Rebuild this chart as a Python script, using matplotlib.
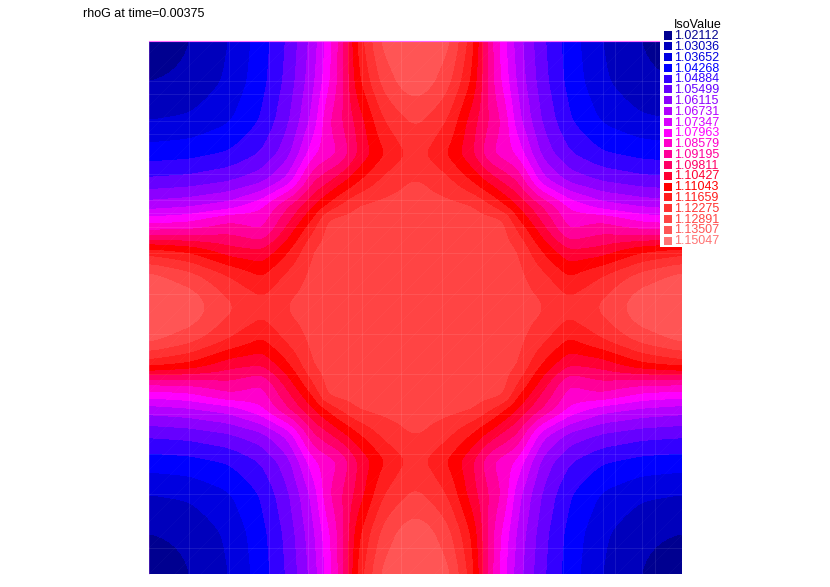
import numpy as np
import matplotlib
matplotlib.use("Agg")
import matplotlib.pyplot as plt
from matplotlib.patches import Rectangle

plt.rcParams['font.family'] = ['Liberation Sans', 'DejaVu Sans']

title = "rhoG at time=0.00375"
iso_values = [1.02112, 1.03036, 1.03652, 1.04268, 1.04884, 1.05499, 1.06115,
              1.06731, 1.07347, 1.07963, 1.08579, 1.09195, 1.09811, 1.10427,
              1.11043, 1.11659, 1.12275, 1.12891, 1.13507, 1.15047]
iso_labels = ["%.5f" % v for v in iso_values]
band_colors = ["#000090", "#0000bc", "#0000e0", "#0000ff", "#3300ff", "#6600ff",
               "#8c00ff", "#b200ff", "#d800ff", "#ff00ff", "#ff00cc", "#ff0099",
               "#ff0066", "#ff0033", "#ff0000", "#ff1e1e", "#ff3232", "#ff4444",
               "#ff5555", "#ff7272"]

# sample positions in one quarter of the square, distance from the corner
pos = [0, 40, 80, 113, 140, 165, 178, 190, 210, 235, 257, 266.5]
# rhoG, the field is mirrored and symmetric about the diagonal
row0 = [1.0174, 1.0255, 1.0334, 1.0427, 1.0532, 1.0673, 1.0781, 1.0889, 1.1160, 1.1345, 1.1369, 1.1375]
row1 = [1.0281, 1.0347, 1.0436, 1.0544, 1.0692, 1.0803, 1.0895, 1.1123, 1.1283, 1.1351, 1.1357]
row2 = [1.0390, 1.0464, 1.0575, 1.0729, 1.0870, 1.0932, 1.1037, 1.1194, 1.1252, 1.1268]
row3 = [1.0525, 1.0624, 1.0815, 1.0858, 1.0883, 1.1018, 1.1129, 1.1197, 1.1212]
row4 = [1.0729, 1.0950, 1.0994, 1.1043, 1.1129, 1.1215, 1.1255, 1.1261]
row5 = [1.1074, 1.1135, 1.1197, 1.1265, 1.1278, 1.1282, 1.1284]
row6 = [1.1264, 1.1272, 1.1280, 1.1286, 1.1289, 1.1289]
row7 = [1.1292, 1.1292, 1.1295, 1.1295, 1.1295]
row8 = [1.1302, 1.1305, 1.1308, 1.1308]
row9 = [1.1311, 1.1311, 1.1311]
row10 = [1.1314, 1.1314]
row11 = [1.1314]
rows = [row0, row1, row2, row3, row4, row5, row6, row7, row8, row9, row10, row11]

# faint mesh seams, px from the left/top of the square
seams_x = [40, 80, 120, 159, 173, 199, 213, 252, 293, 333, 374, 414, 454, 466, 493, 506]
seams_y = [40, 53, 80, 93, 133, 159, 172, 186, 212, 253, 293, 333, 373, 413, 453, 507]
seams_diag = np.arange(-520, 521, 26)

W, H = 830, 587
fig = plt.figure(figsize=(W/100, H/100), dpi=100)
ax = fig.add_axes([149/W, 1-574/H, 533/W, 533/H])

# build the full field
n = len(pos)
q = np.zeros((n, n))
for i, r in enumerate(rows):
    q[i, i:] = r
    q[i:, i] = r
full = np.vstack([q, q[-2::-1]])
full = np.hstack([full, full[:, -2::-1]])
p = np.array(pos)
xs = np.concatenate([p, 533 - p[-2::-1]])

# resample to 1px and soften so the bands are not angular
xf = np.arange(0, 534)
zf = np.array([np.interp(xf, xs, r) for r in full])
zf = np.array([np.interp(xf, xs, c) for c in zf.T]).T
blur = np.exp(-0.5*(np.arange(-15, 16)/5.0)**2)
blur = blur/blur.sum()
zp = np.pad(zf, 15, mode='reflect')
zp = np.apply_along_axis(lambda v: np.convolve(v, blur, mode='same'), 0, zp)
zp = np.apply_along_axis(lambda v: np.convolve(v, blur, mode='same'), 1, zp)
zf = zp[15:-15, 15:-15]

mids = [(a+b)/2 for a, b in zip(iso_values[:-1], iso_values[1:])]
edges = [1.0] + mids + [1.2]
ax.contourf(xf, xf, zf, levels=edges, colors=band_colors)
for s in seams_x:
    ax.axvline(s, color='white', lw=0.8, alpha=0.09)
for s in seams_y:
    ax.axhline(s, color='white', lw=0.8, alpha=0.09)
for c in seams_diag:
    ax.plot([0, 533], [533-c, -c], color='white', lw=0.5, alpha=0.035)
ax.set_xlim(0, 533)
ax.set_ylim(533, 0)
ax.axis('off')
ax.plot([0, 533], [0, 0], color='#ff66ff', lw=0.8, clip_on=False)
ax.plot([0, 0], [0, 533], color='#ff66ff', lw=0.6, alpha=0.3, clip_on=False)


def fx(x):
    return x/W


def fy(y):
    return 1-y/H


fig.text(fx(83), fy(14), title, fontsize=9, color='black', va='center', ha='left')

# legend sits on top of the plot
fig.add_artist(Rectangle((fx(660), fy(247)), 23/W, 217/H, transform=fig.transFigure,
                         facecolor='white', edgecolor='none', zorder=5))
fig.text(fx(674), fy(25.5), "IsoValue", fontsize=9, color='black', va='center', ha='left', zorder=6)
for i, (lab, col) in enumerate(zip(iso_labels, band_colors)):
    yc = 35.5 + i*10.79
    fig.add_artist(Rectangle((fx(664), fy(yc+4)), 8/W, 8/H, transform=fig.transFigure,
                             facecolor=col, edgecolor='none', zorder=6))
    fig.text(fx(674.5), fy(yc+0.7), lab, fontsize=9, color=col, va='center', ha='left', zorder=6)

fig.savefig("out.png", dpi=100, facecolor='white')
